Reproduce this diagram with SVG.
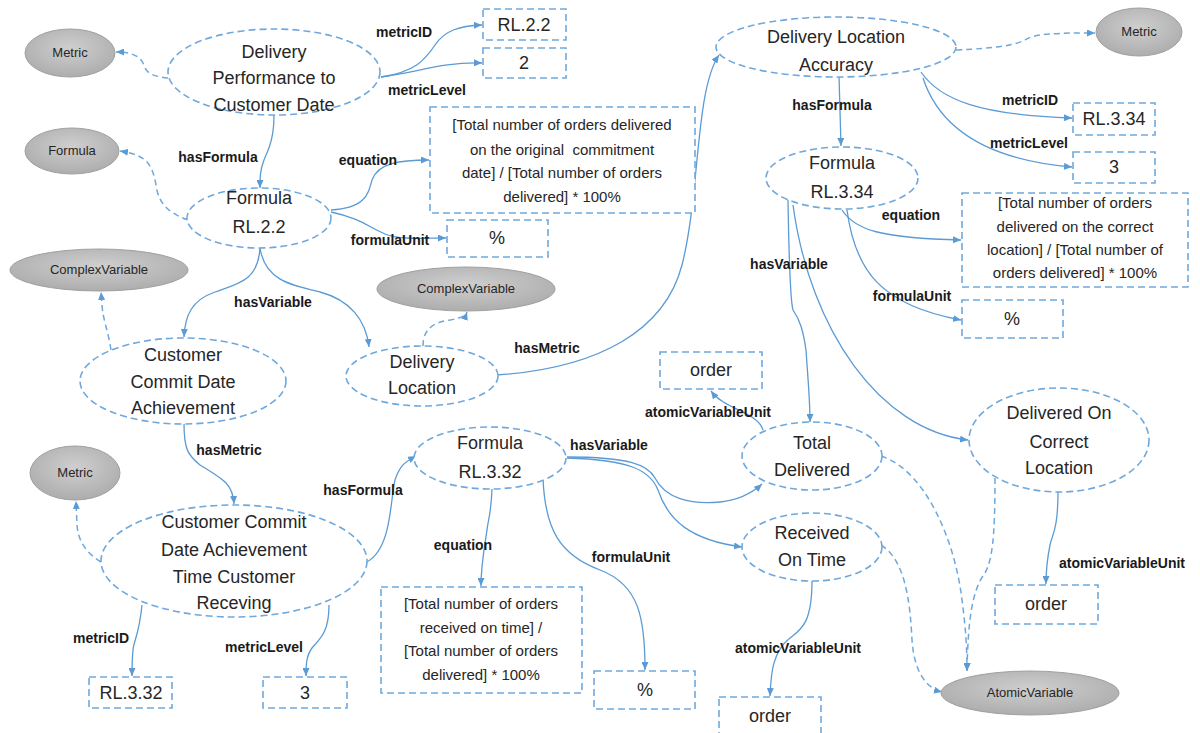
<svg xmlns="http://www.w3.org/2000/svg" width="1200" height="733" viewBox="0 0 1200 733">
<defs>
  <marker id="ah" viewBox="0 0 8 7" refX="8" refY="3.5" markerWidth="8" markerHeight="7" markerUnits="userSpaceOnUse" orient="auto">
    <path d="M0,0 L8,3.5 L0,7 z" fill="#5b9bd5"/>
  </marker>
  <radialGradient id="gray" cx="50%" cy="40%" r="60%">
    <stop offset="0" stop-color="#cfcfcf"/>
    <stop offset="1" stop-color="#adadad"/>
  </radialGradient>
  <style>
    .n{fill:#fff;stroke:#6fa8dc;stroke-width:1.6;stroke-dasharray:7 4}
    .b{fill:#fff;stroke:#6fa8dc;stroke-width:1.6;stroke-dasharray:7 4}
    .g{fill:url(#gray);stroke:#a0a0a0;stroke-width:1}
    .t{font-family:"Liberation Sans",Arial,sans-serif;font-size:18px;fill:#262626;text-anchor:middle}
    .s{font-size:13px}
    .e{font-size:15px}
    .l{font-family:"Liberation Sans",Arial,sans-serif;font-size:14px;font-weight:bold;fill:#1a1a1a;text-anchor:middle}
    .c{fill:none;stroke:#5b9bd5;stroke-width:1.3;marker-end:url(#ah)}
    .d{fill:none;stroke:#6fa8dc;stroke-width:1.5;stroke-dasharray:6 4;marker-end:url(#ah)}
  </style>
</defs>
<rect width="1200" height="733" fill="#fff"/>

<g id="connectors">
  <!-- property edges -->
  <path class="c" d="M381,77 C415,72 425,60 435,45 C445,30 460,26 482,25"/>
  <path class="c" d="M381,77 C420,72 440,62 482,63"/>
  <path class="c" d="M274,115 C274,140 268,150 264,160 C260,170 260,178 260,188"/>
  <path class="c" d="M331,210 C365,208 368,195 372,180 C378,163 400,160 429,160"/>
  <path class="c" d="M331,212 C360,218 370,228 385,234 C400,240 425,238 446,238"/>
  <path class="c" d="M260,248 C258,280 240,283 215,292 C192,300 185,315 184,337"/>
  <path class="c" d="M260,248 C265,280 290,285 320,292 C350,300 366,320 369,347"/>
  <path class="c" d="M497,375 C600,368 665,330 682,265 C700,195 695,90 719,55"/>
  <path class="c" d="M184,423 C184,450 188,455 200,465 C225,480 233,485 234,504"/>
  <path class="c" d="M367,562 C392,548 390,500 395,480 C400,465 405,462 416,456"/>
  <path class="c" d="M142,605 C139,635 134,640 133,650 C132,660 132,668 132,676"/>
  <path class="c" d="M329,605 C329,635 318,640 312,648 C306,656 306,666 306,676"/>
  <path class="c" d="M492,489 C491,515 488,520 487,530 C484,550 481,565 481,586"/>
  <path class="c" d="M543,478 C545,530 560,555 600,570 C640,585 645,620 645,670"/>
  <path class="c" d="M567,457 C630,457 648,465 655,478 C665,498 690,505 720,502 C740,500 752,493 762,484"/>
  <path class="c" d="M567,458 C630,460 650,470 658,490 C668,520 690,540 742,547"/>
  <path class="c" d="M839,76 L841,146"/>
  <path class="c" d="M921,72 C940,100 980,115 1072,118"/>
  <path class="c" d="M923,78 C940,130 990,160 1072,167"/>
  <path class="c" d="M842,210 C855,230 880,238 961,240"/>
  <path class="c" d="M847,210 C855,270 880,305 961,320"/>
  <path class="c" d="M788,200 C789,260 790,300 793,310 C800,320 803,330 806,350 C808,380 810,400 810,422"/>
  <path class="c" d="M793,205 C810,330 880,430 968,440"/>
  <path class="c" d="M763,430 C758,412 725,410 711,391"/>
  <path class="c" d="M812,581 C812,625 800,630 790,638 C772,652 771,675 770,696"/>
  <path class="c" d="M1058,492 C1058,530 1052,535 1050,545 C1047,560 1046,570 1046,584"/>
  <!-- type edges -->
  <path class="d" d="M168,78 C150,76 146,72 144,65 C140,55 130,52 116,52"/>
  <path class="d" d="M188,220 C165,212 158,200 156,185 C152,162 145,155 120,151"/>
  <path class="d" d="M111,350 C108,330 103,320 102,305 L101,292"/>
  <path class="d" d="M423,346 C423,328 435,322 450,320 C462,318 466,315 467,312"/>
  <path class="d" d="M956,50 C1000,48 1015,45 1025,40 C1035,33 1060,33 1095,33"/>
  <path class="d" d="M101,562 C85,552 78,540 77,525 L76,501"/>
  <path class="d" d="M881,545 C905,560 910,600 912,640 C914,670 925,688 942,692"/>
  <path class="d" d="M881,456 C925,470 955,540 962,600 C966,630 967,650 967,671"/>
  <path class="d" d="M995,478 C995,540 992,560 985,573 C972,590 968,620 967,671"/>
</g>

<g id="edge-labels">
  <text class="l" x="404" y="37">metricID</text>
  <text class="l" x="427" y="95">metricLevel</text>
  <text class="l" x="218" y="162">hasFormula</text>
  <text class="l" x="368" y="165">equation</text>
  <text class="l" x="390" y="245">formulaUnit</text>
  <text class="l" x="273" y="307">hasVariable</text>
  <text class="l" x="547" y="353">hasMetric</text>
  <text class="l" x="229" y="455">hasMetric</text>
  <text class="l" x="363" y="495">hasFormula</text>
  <text class="l" x="463" y="550">equation</text>
  <text class="l" x="631" y="562">formulaUnit</text>
  <text class="l" x="101" y="643">metricID</text>
  <text class="l" x="264" y="652">metricLevel</text>
  <text class="l" x="609" y="450">hasVariable</text>
  <text class="l" x="708" y="417">atomicVariableUnit</text>
  <text class="l" x="798" y="653">atomicVariableUnit</text>
  <text class="l" x="1122" y="568">atomicVariableUnit</text>
  <text class="l" x="832" y="110">hasFormula</text>
  <text class="l" x="1030" y="105">metricID</text>
  <text class="l" x="1029" y="148">metricLevel</text>
  <text class="l" x="911" y="220">equation</text>
  <text class="l" x="912" y="301">formulaUnit</text>
  <text class="l" x="789" y="269">hasVariable</text>
</g>

<!-- class nodes -->
<g id="metric-1"><ellipse class="g" cx="70" cy="53" rx="45" ry="24"/><text class="t s" x="70" y="57">Metric</text></g>
<g id="formula-class"><ellipse class="g" cx="72" cy="151" rx="47" ry="23"/><text class="t s" x="72" y="155">Formula</text></g>
<g id="complexvariable-1"><ellipse class="g" cx="99" cy="270" rx="89" ry="21"/><text class="t s" x="99" y="274">ComplexVariable</text></g>
<g id="complexvariable-2"><ellipse class="g" cx="466" cy="289" rx="89" ry="22"/><text class="t s" x="466" y="293">ComplexVariable</text></g>
<g id="metric-2"><ellipse class="g" cx="75" cy="473" rx="45" ry="27"/><text class="t s" x="75" y="477">Metric</text></g>
<g id="metric-3"><ellipse class="g" cx="1139" cy="32" rx="43" ry="24"/><text class="t s" x="1139" y="36">Metric</text></g>
<g id="atomicvariable"><ellipse class="g" cx="1030" cy="693" rx="89" ry="22"/><text class="t s" x="1030" y="697">AtomicVariable</text></g>

<!-- instance nodes -->
<g id="delivery-performance"><ellipse class="n" cx="274" cy="72" rx="106" ry="43"/>
  <text class="t" x="274" y="58">Delivery</text><text class="t" x="274" y="84">Performance to</text><text class="t" x="274" y="111">Customer Date</text></g>
<g id="formula-rl22"><ellipse class="n" cx="259" cy="218" rx="72" ry="30"/>
  <text class="t" x="259" y="204">Formula</text><text class="t" x="259" y="233">RL.2.2</text></g>
<g id="customer-commit"><ellipse class="n" cx="183" cy="381" rx="103" ry="43"/>
  <text class="t" x="183" y="361">Customer</text><text class="t" x="183" y="388">Commit Date</text><text class="t" x="183" y="414">Achievement</text></g>
<g id="delivery-location"><ellipse class="n" cx="422" cy="376" rx="76" ry="30"/>
  <text class="t" x="422" y="368">Delivery</text><text class="t" x="422" y="394">Location</text></g>
<g id="customer-receiving"><ellipse class="n" cx="234" cy="561" rx="133" ry="56"/>
  <text class="t" x="234" y="528">Customer Commit</text><text class="t" x="234" y="556">Date Achievement</text><text class="t" x="234" y="583">Time Customer</text><text class="t" x="234" y="609">Receving</text></g>
<g id="formula-rl332"><ellipse class="n" cx="490" cy="458" rx="76" ry="31"/>
  <text class="t" x="490" y="449">Formula</text><text class="t" x="490" y="478">RL.3.32</text></g>
<g id="delivery-location-accuracy"><ellipse class="n" cx="836" cy="47" rx="120" ry="30"/>
  <text class="t" x="836" y="43">Delivery Location</text><text class="t" x="836" y="71">Accuracy</text></g>
<g id="formula-rl334"><ellipse class="n" cx="842" cy="178" rx="76" ry="31"/>
  <text class="t" x="842" y="169">Formula</text><text class="t" x="842" y="198">RL.3.34</text></g>
<g id="total-delivered"><ellipse class="n" cx="812" cy="456" rx="70" ry="34"/>
  <text class="t" x="812" y="449">Total</text><text class="t" x="812" y="476">Delivered</text></g>
<g id="delivered-correct-location"><ellipse class="n" cx="1059" cy="440" rx="90" ry="52"/>
  <text class="t" x="1059" y="419">Delivered On</text><text class="t" x="1059" y="448">Correct</text><text class="t" x="1059" y="474">Location</text></g>
<g id="received-on-time"><ellipse class="n" cx="812" cy="547" rx="70" ry="34"/>
  <text class="t" x="812" y="539">Received</text><text class="t" x="812" y="566">On Time</text></g>

<!-- literal values -->
<g id="val-rl22"><rect class="b" x="483" y="9" width="83" height="31"/><text class="t" x="524" y="31">RL.2.2</text></g>
<g id="val-2"><rect class="b" x="483" y="48" width="83" height="30"/><text class="t" x="524" y="69">2</text></g>
<g id="val-eq-rl22"><rect class="b" x="430" y="107" width="265" height="106"/>
  <text class="t e" x="562" y="130">[Total number of orders delivered</text>
  <text class="t e" x="562" y="155">on the original&#160; commitment</text>
  <text class="t e" x="562" y="178">date] / [Total number of orders</text>
  <text class="t e" x="562" y="202">delivered] * 100%</text></g>
<g id="val-pct-1"><rect class="b" x="447" y="220" width="101" height="37"/><text class="t" x="497" y="244">%</text></g>
<g id="val-rl334"><rect class="b" x="1073" y="103" width="82" height="32"/><text class="t" x="1114" y="125">RL.3.34</text></g>
<g id="val-3a"><rect class="b" x="1073" y="152" width="82" height="31"/><text class="t" x="1114" y="173">3</text></g>
<g id="val-eq-rl334"><rect class="b" x="962" y="193" width="226" height="94"/>
  <text class="t e" x="1075" y="208">[Total number of orders</text>
  <text class="t e" x="1075" y="232">delivered on the correct</text>
  <text class="t e" x="1075" y="255">location] / [Total number of</text>
  <text class="t e" x="1075" y="278">orders delivered] * 100%</text></g>
<g id="val-pct-2"><rect class="b" x="962" y="300" width="101" height="38"/><text class="t" x="1012" y="325">%</text></g>
<g id="val-order-1"><rect class="b" x="660" y="352" width="102" height="37"/><text class="t" x="711" y="376">order</text></g>
<g id="val-order-2"><rect class="b" x="995" y="585" width="103" height="39"/><text class="t" x="1046" y="610">order</text></g>
<g id="val-rl332"><rect class="b" x="89" y="677" width="83" height="31"/><text class="t" x="131" y="699">RL.3.32</text></g>
<g id="val-3b"><rect class="b" x="263" y="677" width="84" height="31"/><text class="t" x="305" y="699">3</text></g>
<g id="val-eq-rl332"><rect class="b" x="381" y="587" width="201" height="106"/>
  <text class="t e" x="481" y="609">[Total number of orders</text>
  <text class="t e" x="481" y="633">received on time] /</text>
  <text class="t e" x="481" y="656">[Total number of orders</text>
  <text class="t e" x="481" y="680">delivered] * 100%</text></g>
<g id="val-pct-3"><rect class="b" x="594" y="671" width="101" height="38"/><text class="t" x="645" y="696">%</text></g>
<g id="val-order-3"><rect class="b" x="719" y="697" width="102" height="40"/><text class="t" x="770" y="722">order</text></g>
</svg>
